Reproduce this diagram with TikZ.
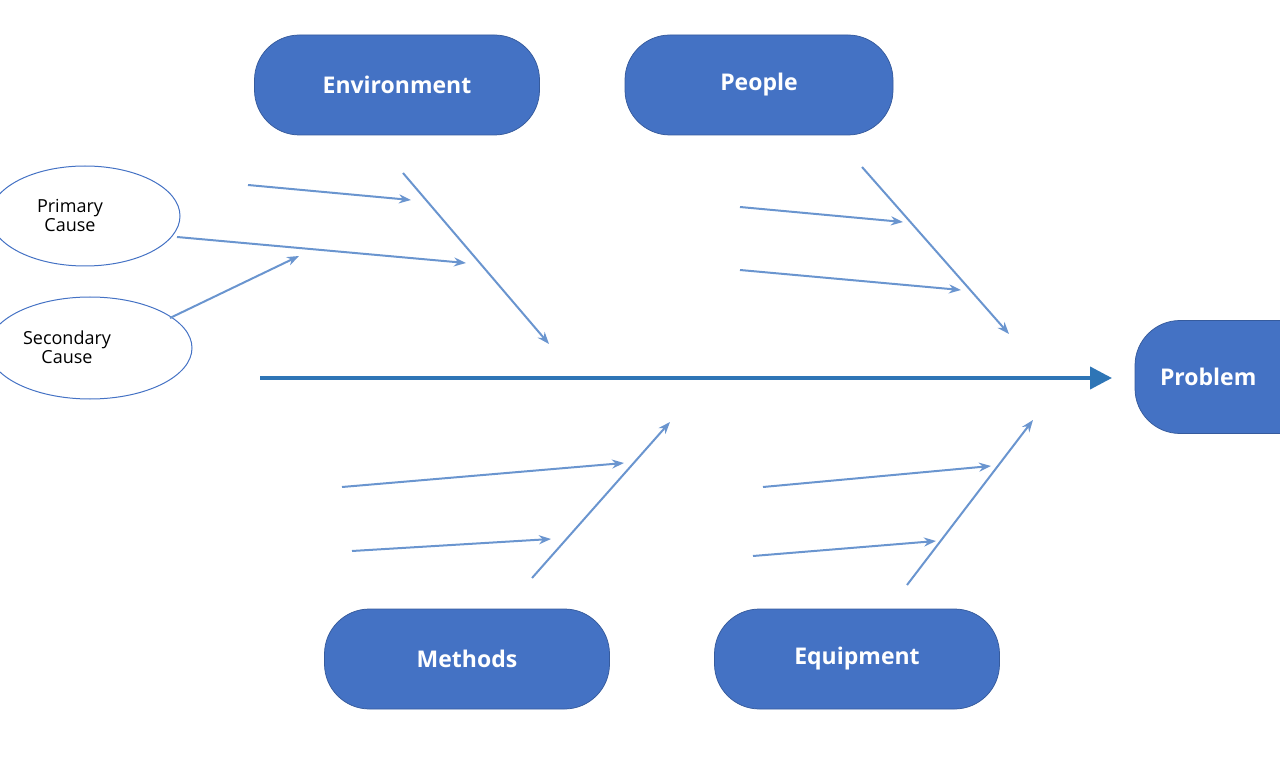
\documentclass[tikz,border=0pt]{standalone}
\usepackage{fontspec}
\setmainfont{Open Sans}
\usetikzlibrary{arrows.meta}
\definecolor{catblue}{HTML}{4472C4}
\definecolor{spineblue}{HTML}{2E75B6}
\definecolor{bonecol}{HTML}{6A95CF}
\tikzset{every picture/.style={line width=0.75pt}}
\tikzset{
  catbox/.style={draw=catblue!80!black,fill=catblue,rounded corners=45pt,minimum width=285pt,minimum height=100pt,text=white,font=\fontsize{23}{28}\selectfont\bfseries},
  bone/.style={draw=bonecol,line width=2pt,-{Stealth[length=12pt,width=9pt]}},
}
\begin{document}
\begin{tikzpicture}[x=1pt,y=1pt,yscale=-1,xscale=1]
\useasboundingbox (0,0) rectangle (1280,759);
\clip (0,0) rectangle (1280,759);

% Category nodes
\node (env) [catbox] at (397,85) {Environment};
\node (ppl) [catbox,minimum width=268pt] at (759,85) {People};
\node (mth) [catbox] at (467,659) {Methods};
\node (eqp) [catbox] at (857,659) {Equipment};
\node (prb) [catbox,minimum width=300pt,minimum height=113pt,text width=250pt,align=left] at (1285,377) {Problem};

% Cause ellipses
\draw[catblue,line width=1pt] (85,216) ellipse (95pt and 50pt);
\node (pri) [font=\fontsize{18}{19}\selectfont,align=center] at (70,215) {Primary\\Cause};
\draw[catblue,line width=1pt] (90,348) ellipse (102pt and 51pt);
\node (sec) [font=\fontsize{18}{19}\selectfont,align=center] at (67,347) {Secondary\\Cause};

% Spine
\coordinate (tail) at (260,378);
\coordinate (head) at (1112,378);
\draw[spineblue,line width=4pt,-{Triangle[length=22pt,width=22pt]}] (tail) -- (head);

% Environment bone
\draw[bone] (403,173) -- (549,344);
\draw[bone] (248,185) -- (411,200);
\draw[bone] (177,237) -- (466,263);
\draw[bone] (170,318) -- (299,256);

% People bone
\draw[bone] (862,167) -- (1009,334);
\draw[bone] (740,207) -- (903,222);
\draw[bone] (740,270) -- (961,290);

% Methods bone
\draw[bone] (532,578) -- (670,422);
\draw[bone] (342,487) -- (624,463);
\draw[bone] (352,551) -- (551,539);

% Equipment bone
\draw[bone] (907,585) -- (1033,420);
\draw[bone] (763,487) -- (991,466);
\draw[bone] (753,556) -- (936,541);

\end{tikzpicture}
\end{document}
